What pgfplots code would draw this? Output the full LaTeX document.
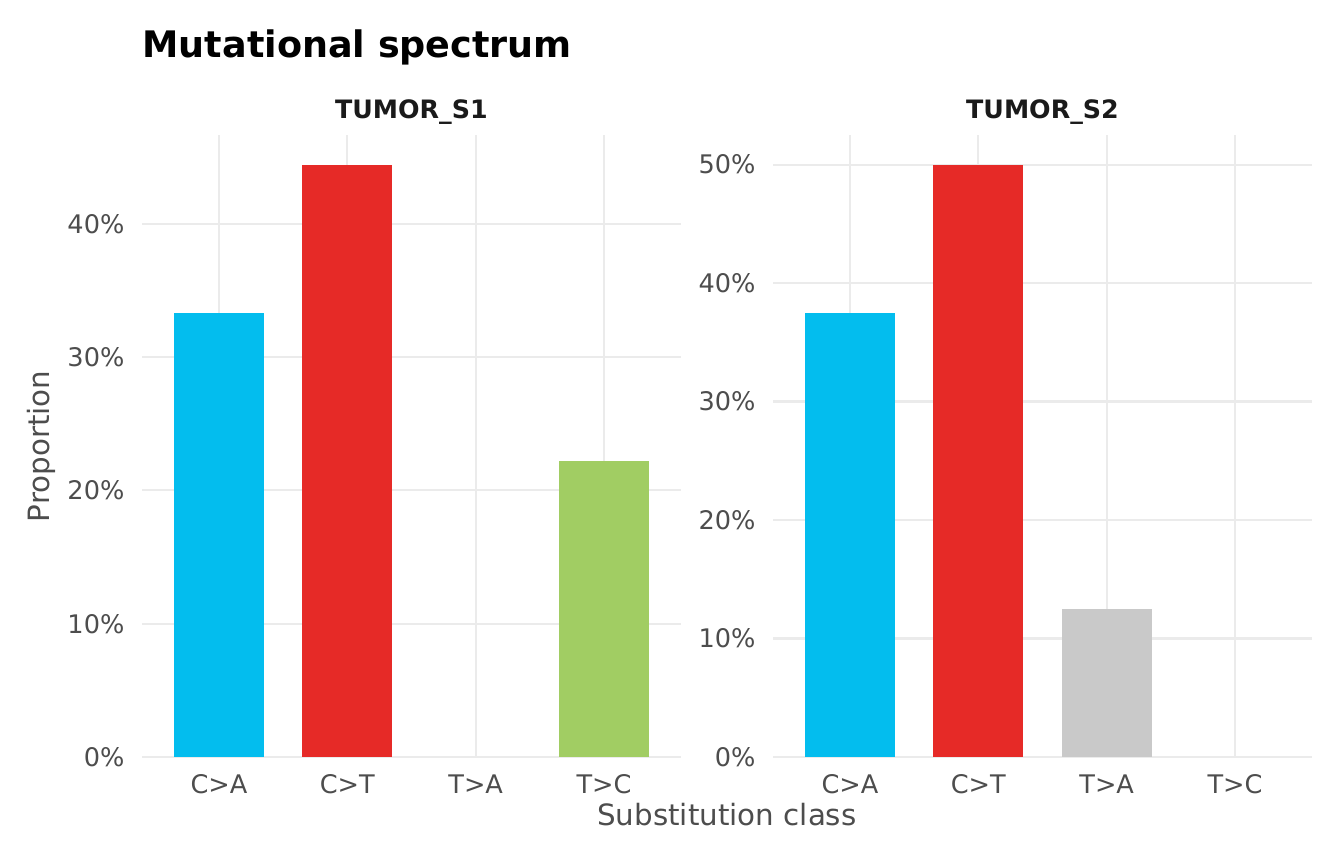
\documentclass[border=0pt]{standalone}
\usepackage{pgfplots}
\pgfplotsset{compat=1.18}
\usepackage{fontspec}
\setmainfont{DejaVu Sans}
\definecolor{cCA}{HTML}{03BDEE}
\definecolor{cCT}{HTML}{E62A27}
\definecolor{cTA}{HTML}{C9C9C9}
\definecolor{cTC}{HTML}{A1CD63}
\definecolor{gridc}{HTML}{EBEBEB}
\definecolor{tickc}{HTML}{4D4D4D}
\definecolor{stripc}{HTML}{1A1A1A}
\pgfplotsset{
  facet/.style={
    scale only axis, width=202.125pt, height=233.25pt,
    xmin=0.4, xmax=4.6, ymin=0,
    xtick={1,2,3,4}, xticklabels={C>A,C>T,T>A,T>C},
    axis line style={draw=none}, major tick length=0pt, tick style={draw=none},
    xmajorgrids, ymajorgrids, grid style={color=gridc, line width=0.8pt},
    ticklabel style={font=\fontsize{9.6}{11}\selectfont, text=tickc, inner sep=0pt},
    yticklabel style={anchor=east, xshift=-6.4pt},
    xticklabel style={anchor=north, yshift=-6.4pt},
  },
  bars/.style={ybar, bar width=33.75pt, bar shift=0pt, draw=none}
}
\begin{document}
\begin{tikzpicture}
\path[use as bounding box] (0,0) rectangle (504pt,324pt);
\begin{axis}[facet, at={(53.25pt,40.125pt)}, anchor=south west,
  ymax=46.667, ytick={0,10,20,30,40},
  yticklabels={0\%,10\%,20\%,30\%,40\%}]
  \addplot[bars, fill=cCA] coordinates {(1,33.333)};
  \addplot[bars, fill=cCT] coordinates {(2,44.444)};
  \addplot[bars, fill=cTC] coordinates {(4,22.222)};
\end{axis}
\begin{axis}[facet, at={(289.875pt,40.125pt)}, anchor=south west,
  ymax=52.5, ytick={0,10,20,30,40,50},
  yticklabels={0\%,10\%,20\%,30\%,40\%,50\%}]
  \addplot[bars, fill=cCA] coordinates {(1,37.5)};
  \addplot[bars, fill=cCT] coordinates {(2,50)};
  \addplot[bars, fill=cTA] coordinates {(3,12.5)};
\end{axis}
\node[anchor=base west, inner sep=0pt, font=\fontsize{13.7}{16}\bfseries\selectfont] at (53.25pt,302.6pt) {Mutational spectrum};
\node[anchor=base, font=\fontsize{9.5}{11}\bfseries\selectfont, text=stripc, inner sep=0pt] at (154.3pt,279.4pt) {TUMOR\_S1};
\node[anchor=base, font=\fontsize{9.5}{11}\bfseries\selectfont, text=stripc, inner sep=0pt] at (390.94pt,279.4pt) {TUMOR\_S2};
\node[anchor=base, font=\fontsize{11}{13}\selectfont, text=tickc, inner sep=0pt] at (272.6pt,14.25pt) {Substitution class};
\node[rotate=90, anchor=center, font=\fontsize{11}{13}\selectfont, text=tickc, inner sep=0pt] at (15.6pt,156.6pt) {Proportion};
\end{tikzpicture}
\end{document}
